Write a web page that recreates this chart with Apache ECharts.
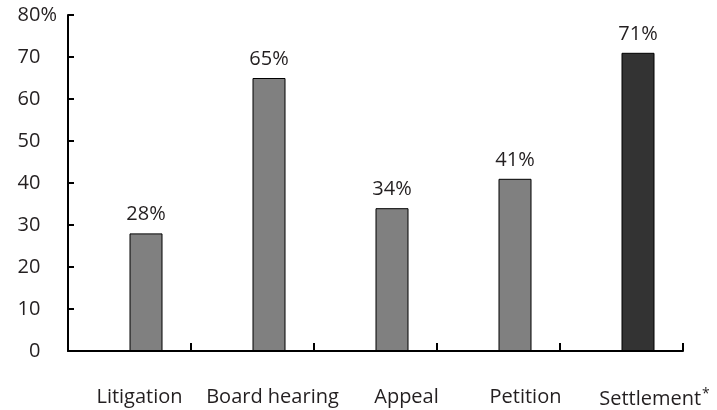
<!DOCTYPE html>
<html>
<head>
<meta charset="utf-8">
<script src="https://cdn.jsdelivr.net/npm/echarts@6/dist/echarts.min.js"></script>
<style>
  html, body { margin: 0; padding: 0; background: #fff; }
  #chart { width: 717px; height: 410px; }
</style>
</head>
<body>
<div id="chart"></div>
<script>
// Share of cases by resolution route (percent)
const categories = ['Litigation', 'Board hearing', 'Appeal', 'Petition', 'Settlement*'];
const shares = [28, 65, 34, 41, 71];
const yTicks = [0, 10, 20, 30, 40, 50, 60, 70, 80];

const FONT = '"Open Sans", "Noto Sans", sans-serif';
const TEXT = '#231f20';

// Category labels sit a little to the right of their slot centre
const labelShift = [10, 20, 31, 27, 33];

const GRID_LEFT = 68;
const TICK_LEN = 6;

const chart = echarts.init(document.getElementById('chart'), null, { renderer: 'canvas' });

const highlighted = 'Settlement*';

chart.setOption({
  animation: false,
  backgroundColor: '#fff',
  grid: { left: GRID_LEFT, right: 34, top: 15, bottom: 59, containLabel: false },
  xAxis: {
    type: 'category',
    data: categories.map((c, i) => ({
      value: c,
      textStyle: { padding: [0, 0, 0, labelShift[i] * 2] }
    })),
    boundaryGap: true,
    axisLine: { show: true, lineStyle: { color: '#000', width: 2 } },
    axisTick: { show: true, inside: true, interval: 0, length: 8, lineStyle: { color: '#000', width: 2 } },
    axisLabel: {
      interval: 0,
      margin: 36,
      color: TEXT,
      fontFamily: FONT,
      fontSize: 20,
      formatter: v => v.endsWith('*') ? v.slice(0, -1) + '{sup|*}' : v,
      rich: {
        sup: { fontFamily: FONT, fontSize: 14, color: TEXT, padding: [0, 0, 10, 1] }
      }
    },
    splitLine: { show: false }
  },
  yAxis: {
    type: 'value',
    min: yTicks[0],
    max: yTicks[yTicks.length - 1],
    interval: yTicks[1] - yTicks[0],
    axisLine: { show: true, lineStyle: { color: '#000', width: 2 } },
    // inward ticks are added as graphic lines below
    axisTick: { show: false },
    splitLine: { show: false },
    axisLabel: {
      margin: 11,
      formatter: v => v === yTicks[yTicks.length - 1] ? '{n|' + v + '}{p|%}' : '{n|' + v + '}{h|%}',
      rich: {
        n: { fontFamily: FONT, fontSize: 20, color: TEXT },
        p: { fontFamily: FONT, fontSize: 20, color: TEXT },
        h: { fontFamily: FONT, fontSize: 20, color: 'rgba(0,0,0,0)' }
      }
    }
  },
  series: [
    {
      // empty companion slot: keeps the bars to the right half of each category
      type: 'bar',
      data: categories.map(() => null),
      barWidth: 33,
      barGap: '0%',
      silent: true
    },
    {
      type: 'bar',
      data: shares.map((v, i) => categories[i] === highlighted
        ? { value: v, itemStyle: { color: '#333333' } }
        : v),
      barWidth: 33,
      barGap: '0%',
      itemStyle: { color: '#808080', borderColor: '#000', borderWidth: 1 },
      label: {
        show: true,
        position: 'top',
        distance: 9,
        formatter: '{c}%',
        fontFamily: FONT,
        fontSize: 20,
        color: TEXT
      }
    }
  ]
});

// Inward-pointing value-axis ticks, placed through the y axis scale
chart.setOption({
  graphic: yTicks.map(v => {
    const y = chart.convertToPixel({ yAxisIndex: 0 }, v);
    return {
      type: 'line',
      silent: true,
      z: 100,
      shape: { x1: GRID_LEFT, y1: y, x2: GRID_LEFT + TICK_LEN, y2: y },
      style: { stroke: '#000', lineWidth: 2 }
    };
  })
});
</script>
</body>
</html>
